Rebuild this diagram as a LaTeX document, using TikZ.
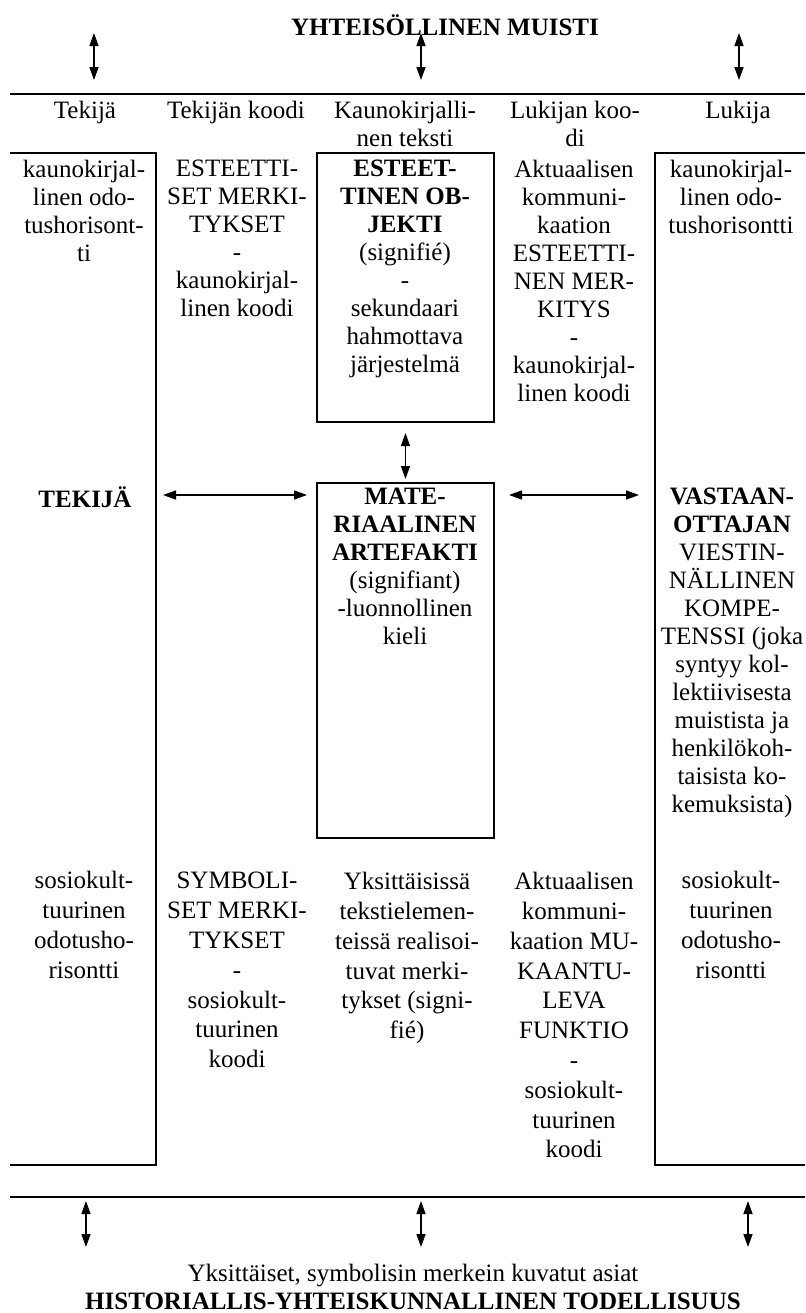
\documentclass[tikz,border=0pt]{standalone}
\usepackage{fontspec}
\setmainfont{Liberation Serif}
\usetikzlibrary{arrows.meta}
\newcommand{\dsize}{\fontsize{12.5}{14}\selectfont}
\newcommand{\dsizeala}{\fontsize{12.5}{14.9}\selectfont}

\begin{document}
\begin{tikzpicture}[
    x=0.5pt, y=-0.5pt, font=\dsize,
    txt/.style={align=center, anchor=north, inner sep=0pt},
    ala/.style={txt, font=\dsizeala},
    bx/.style={draw, line width=1pt, inner sep=0pt, minimum width=88.5pt},
    rl/.style={line width=1pt},
    e/.style={{Triangle[length=6.5pt,width=4.5pt]}-{Triangle[length=6.5pt,width=4.5pt]}, line width=0.7pt}
  ]
  \useasboundingbox (0,0) rectangle (805,1313);

  % yhteisollinen muisti
  \node[txt] (muisti) at (445,14) {\textbf{YHTEISÖLLINEN MUISTI}};
  \draw[rl] (10,94) -- (805,94);
  \foreach \x/\n in {94/a,421/b,739/c}{
    \coordinate (ylA\n) at (\x,33);
    \coordinate (ylB\n) at (\x,80);
    \draw[e] (ylA\n) -- (ylB\n);
  }

  % sarakkeiden otsikot
  \node[txt] (h1) at (85,101)  {Tekijä};
  \node[txt] (h2) at (236,101) {Tekijän koodi};
  \node[txt] (h3) at (405,101) {Kaunokirjalli-\\nen teksti};
  \node[txt] (h4) at (575,101) {Lukijan koo-\\di};
  \node[txt] (h5) at (738,101) {Lukija};

  % kehykset
  \draw[rl] (10,153) -- (156,153) -- (156,1165) -- (10,1165);
  \draw[rl] (805,153) -- (655,153) -- (655,1165) -- (805,1165);
  \node[bx, minimum height=134.5pt] (objekti)   at (405.5,287.5) {};
  \node[bx, minimum height=177.5pt] (artefakti) at (405.5,660.5) {};

  % ylarivi
  \node[txt] (u1) at (84,160)  {kaunokirjal-\\linen odo-\\tushorisont-\\ti};
  \node[txt] (u2) at (237,160) {ESTEETTI-\\SET MERKI-\\TYKSET\\-\\kaunokirjal-\\linen koodi};
  \node[txt] (u3) at (405,160) {\textbf{ESTEET-}\\\textbf{TINEN OB-}\\\textbf{JEKTI}\\(signifié)\\-\\sekundaari\\hahmottava\\järjestelmä};
  \node[txt] (u4) at (574,160) {Aktuaalisen\\kommuni-\\kaation\\ESTEETTI-\\NEN MER-\\KITYS\\-\\kaunokirjal-\\linen koodi};
  \node[txt] (u5) at (731,160) {kaunokirjal-\\linen odo-\\tushorisontti};

  % keskirivi
  \node[txt] (tekija) at (85,486)  {\textbf{TEKIJÄ}};
  \node[txt] (m3)     at (405,488) {\textbf{MATE-}\\\textbf{RIAALINEN}\\\textbf{ARTEFAKTI}\\(signifiant)\\-luonnollinen\\kieli};
  \node[txt] (vast)   at (732,488) {\textbf{VASTAAN-}\\\textbf{OTTAJAN}\\VIESTIN-\\NÄLLINEN\\KOMPE-\\TENSSI (joka\\syntyy kol-\\lektiivisesta\\muistista ja\\henkilökoh-\\taisista ko-\\kemuksista)};

  \coordinate (rajaV) at (156,495);
  \coordinate (rajaO) at (655,495);
  \draw[e, shorten <=5pt, shorten >=1.5pt] (objekti) -- (artefakti);
  \draw[e] ([xshift=3.5pt]rajaV) -- ([xshift=-4.5pt]artefakti.west |- rajaV);
  \draw[e] ([xshift=7pt]artefakti.east |- rajaO) -- ([xshift=-8pt]rajaO);

  % alarivi
  \node[ala] (l1) at (84,871)  {sosiokult-\\tuurinen\\odotusho-\\risontti};
  \node[ala] (l2) at (237,872) {SYMBOLI-\\SET MERKI-\\TYKSET\\-\\sosiokult-\\tuurinen\\koodi};
  \node[ala] (l3) at (407,872) {Yksittäisissä\\tekstielemen-\\teissä realisoi-\\tuvat merki-\\tykset (signi-\\fié)};
  \node[ala] (l4) at (574,872) {Aktuaalisen\\kommuni-\\kaation MU-\\KAANTU-\\LEVA\\FUNKTIO\\-\\sosiokult-\\tuurinen\\koodi};
  \node[ala] (l5) at (731,871) {sosiokult-\\tuurinen\\odotusho-\\risontti};

  % historiallinen todellisuus
  \draw[rl] (10,1197) -- (805,1197);
  \foreach \x/\n in {86/a,421/b,748/c}{
    \coordinate (alA\n) at (\x,1201);
    \coordinate (alB\n) at (\x,1247);
    \draw[e] (alA\n) -- (alB\n);
  }
  \node[txt] (asiat) at (413,1264) {Yksittäiset, symbolisin merkein kuvatut asiat};
  \node[txt] (todell) at (413,1293) {\textbf{HISTORIALLIS-YHTEISKUNNALLINEN TODELLISUUS}};
\end{tikzpicture}
\end{document}
